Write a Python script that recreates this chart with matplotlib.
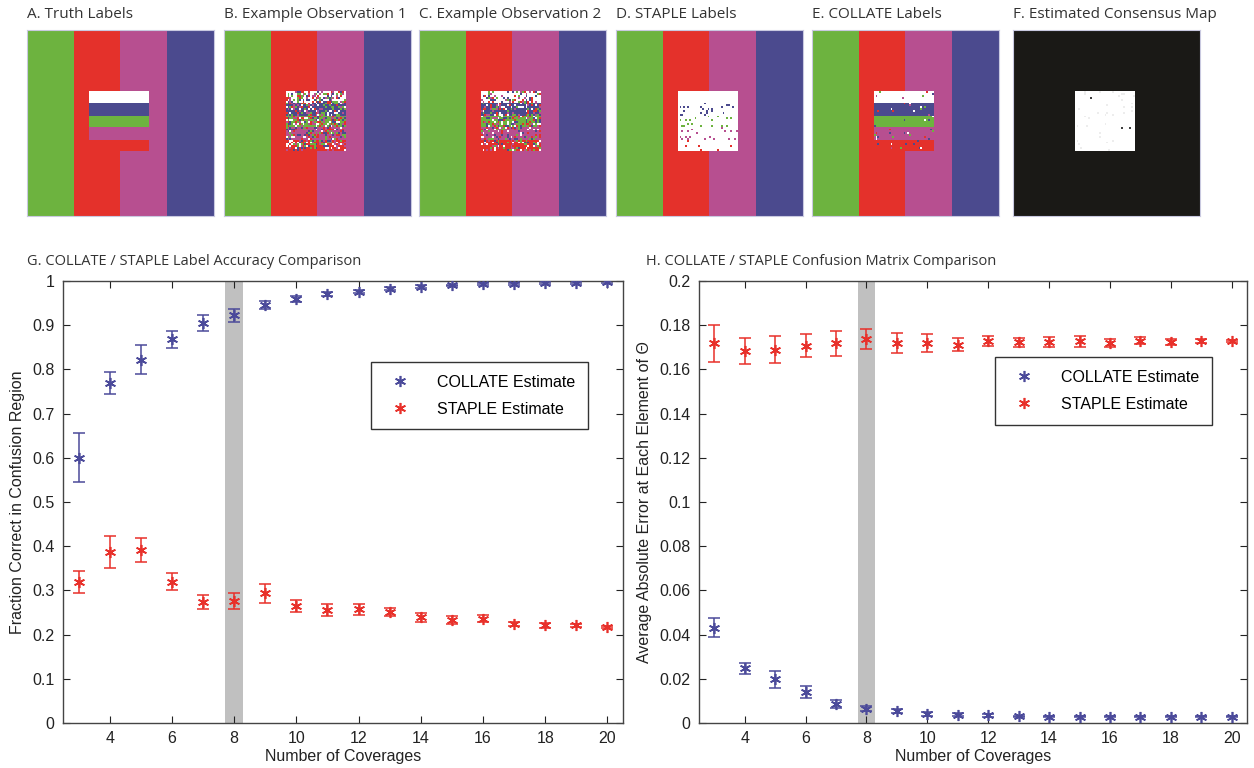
import numpy as np
import matplotlib
matplotlib.use("Agg")
import matplotlib.pyplot as plt
from matplotlib.lines import Line2D
from matplotlib.ticker import FuncFormatter

# ==========================
# Data
# ==========================
coverages = np.arange(3, 21)

# G. label accuracy
acc_collate = [0.600, 0.770, 0.822, 0.868, 0.905, 0.922, 0.945, 0.959, 0.971,
               0.976, 0.983, 0.987, 0.990, 0.993, 0.994, 0.995, 0.996, 0.997]
acc_collate_err = [0.055, 0.025, 0.033, 0.019, 0.019, 0.014, 0.009, 0.007, 0.005,
                   0.004, 0.003, 0.003, 0.002, 0.002, 0.002, 0.002, 0.002, 0.002]
acc_staple = [0.320, 0.387, 0.391, 0.320, 0.274, 0.276, 0.293, 0.265, 0.256,
              0.257, 0.251, 0.239, 0.234, 0.236, 0.224, 0.221, 0.221, 0.218]
acc_staple_err = [0.025, 0.036, 0.027, 0.019, 0.016, 0.019, 0.021, 0.013, 0.014,
                  0.013, 0.009, 0.010, 0.009, 0.008, 0.005, 0.005, 0.003, 0.002]

# H. confusion matrix error
err_collate = [0.0432, 0.0247, 0.0197, 0.0142, 0.0085, 0.0065, 0.0055, 0.0042, 0.0037,
               0.0034, 0.0030, 0.0029, 0.0029, 0.0029, 0.0029, 0.0029, 0.0029, 0.0029]
err_collate_err = [0.0041, 0.0025, 0.0037, 0.0027, 0.0017, 0.0012, 0.0010, 0.0009, 0.0006,
                   0.0005, 0.0003, 0.0003, 0.0003, 0.0003, 0.0003, 0.0003, 0.0003, 0.0003]
err_staple = [0.1718, 0.1682, 0.1690, 0.1708, 0.1718, 0.1738, 0.1720, 0.1720, 0.1712,
              0.1730, 0.1722, 0.1725, 0.1727, 0.1718, 0.1730, 0.1724, 0.1727, 0.1730]
err_staple_err = [0.0084, 0.0058, 0.0060, 0.0053, 0.0056, 0.0045, 0.0046, 0.0042, 0.0029,
                  0.0022, 0.0020, 0.0023, 0.0024, 0.0018, 0.0015, 0.0014, 0.0009, 0.0005]

highlight_cov = 8

panel_titles = ["A. Truth Labels", "B. Example Observation 1", "C. Example Observation 2",
                "D. STAPLE Labels", "E. COLLATE Labels", "F. Estimated Consensus Map"]

# ==========================
# Colori / stile
# ==========================
BLUE = "#4b4a9a"
RED = "#e8302a"
label_rgb = np.array([
    [0x6d, 0xb3, 0x3f],  # 0 verde
    [0xe4, 0x31, 0x2b],  # 1 rosso
    [0xb7, 0x4f, 0x90],  # 2 magenta
    [0x4b, 0x4a, 0x8e],  # 3 blu
    [0xff, 0xff, 0xff],  # 4 bianco
]) / 255.0

plt.rcParams['font.family'] = ['Liberation Sans', 'DejaVu Sans']
TITLE_FONT = ['Open Sans', 'DejaVu Sans']

# ==========================
# Immagini sintetiche (texture deterministica)
# ==========================
N = 100
SQ0, SQ1 = 33, 65
BAND_EDGES = [33, 39, 46, 52, 59, 65]
BAND_LABELS = [4, 3, 0, 2, 1]

ii, jj = np.meshgrid(np.arange(N), np.arange(N), indexing='ij')
MASK32 = np.uint64(0xFFFFFFFF)


def hash01(seed):
    # hash intero (stile murmur) -> valori in [0, 1)
    h = (ii.astype(np.uint64) * np.uint64(73856093)) ^ \
        (jj.astype(np.uint64) * np.uint64(19349663)) ^ \
        np.uint64(seed * 83492791 + 12345)
    h &= MASK32
    h ^= h >> np.uint64(13)
    h = (h * np.uint64(0x5bd1e995)) & MASK32
    h ^= h >> np.uint64(15)
    h = (h * np.uint64(0x27d4eb2d)) & MASK32
    h ^= h >> np.uint64(16)
    return h.astype(np.float64) / 4294967296.0


def truth_labels():
    lab = np.minimum(jj // 25, 3)
    for k in range(5):
        r0, r1 = BAND_EDGES[k], BAND_EDGES[k + 1]
        lab[r0:r1, SQ0:SQ1] = BAND_LABELS[k]
    return lab


inside = (ii >= SQ0) & (ii < SQ1) & (jj >= SQ0) & (jj < SQ1)
truth = truth_labels()


def noisy(p, seed):
    lab = truth.copy()
    flip = (hash01(seed) < p) & inside
    rnd = np.minimum((hash01(seed + 11) * 5).astype(int), 4)
    lab[flip] = rnd[flip]
    return lab


obs1 = noisy(0.6, 1)
obs2 = noisy(0.45, 2)

staple = truth.copy()
staple[inside] = 4
dots = (hash01(3) < 0.08) & inside & (truth != 4)
staple[dots] = truth[dots]

collate = noisy(0.06, 4)

images = [label_rgb[truth], label_rgb[obs1], label_rgb[obs2],
          label_rgb[staple], label_rgb[collate]]

consensus = np.full((N, N, 3), 0.105)
consensus[..., 1] = 0.10
consensus[..., 2] = 0.09
consensus[inside] = 1.0
cdots = (hash01(5) < 0.03) & inside
consensus[cdots] = 0.93
ddots = (hash01(6) < 0.004) & inside
consensus[ddots] = 0.25
images.append(consensus)

# ==========================
# Figura
# ==========================
W, H = 1254, 768
fig = plt.figure(figsize=(W / 100, H / 100), dpi=100)

panel_left = [27, 224, 419, 616, 812, 1013]
for k, img in enumerate(images):
    ax = fig.add_axes([panel_left[k] / W, 1 - 216 / H, 187 / W, 186 / H])
    ax.imshow(img, interpolation='nearest', aspect='auto')
    ax.set_xticks([])
    ax.set_yticks([])
    for s in ax.spines.values():
        s.set_color('#c9c9e0')
        s.set_linewidth(0.8)
    fig.text(panel_left[k] / W, 1 - 14 / H, panel_titles[k], ha='left', va='center',
             fontsize=11, color='#333333', family=TITLE_FONT)


def style_axes(ax):
    ax.set_xlim(2.5, 20.5)
    ax.set_xticks(np.arange(4, 21, 2))
    ax.tick_params(direction='in', top=True, right=True, length=5, width=0.8,
                   labelsize=11.5, colors='#222222', pad=6)
    for s in ax.spines.values():
        s.set_linewidth(1.0)
        s.set_color('#444444')
    ax.yaxis.set_major_formatter(FuncFormatter(lambda v, p: f"{v:g}"))
    ax.set_xlabel("Number of Coverages", fontsize=11.5, color='#222222', labelpad=2)
    ax.axvspan(highlight_cov - 0.29, highlight_cov + 0.29, color='#c0c0c0', lw=0, zorder=0)


def draw_series(ax, y, e, color):
    ax.errorbar(coverages, y, yerr=e, fmt='none', ecolor=color, elinewidth=1.1,
                capsize=4.5, capthick=1.1, zorder=2)
    ax.plot(coverages, y, linestyle='none', marker=(6, 2, 0), markersize=8,
            markeredgewidth=1.2, color=color, zorder=3)


def add_legend(ax, anchor):
    handles = [Line2D([], [], linestyle='none', marker=(6, 2, 0), markersize=8,
                      markeredgewidth=1.2, color=BLUE),
               Line2D([], [], linestyle='none', marker=(6, 2, 0), markersize=8,
                      markeredgewidth=1.2, color=RED)]
    leg = ax.legend(handles, ["COLLATE Estimate", "STAPLE Estimate"], loc='upper right',
                    bbox_to_anchor=anchor, fontsize=11.5, fancybox=False, framealpha=1,
                    edgecolor='#333333', borderpad=0.8, handletextpad=1.3,
                    labelspacing=0.75, borderaxespad=0)
    leg.get_frame().set_linewidth(1.0)


# G
axG = fig.add_axes([63 / W, 1 - 723 / H, 560 / W, 442 / H])
style_axes(axG)
axG.set_ylim(0, 1)
axG.set_yticks(np.arange(0, 1.01, 0.1))
draw_series(axG, acc_collate, acc_collate_err, BLUE)
draw_series(axG, acc_staple, acc_staple_err, RED)
axG.set_ylabel("Fraction Correct in Confusion Region", fontsize=11.5, color='#222222', labelpad=5)
add_legend(axG, (0.9375, 0.817))
fig.text(27 / W, 1 - 262 / H, "G. COLLATE / STAPLE Label Accuracy Comparison",
         ha='left', va='center', fontsize=10.5, color='#333333', family=TITLE_FONT)

# H
axH = fig.add_axes([699 / W, 1 - 723 / H, 548 / W, 442 / H])
style_axes(axH)
axH.set_ylim(0, 0.2)
axH.set_yticks(np.arange(0, 0.201, 0.02))
draw_series(axH, err_collate, err_collate_err, BLUE)
draw_series(axH, err_staple, err_staple_err, RED)
axH.set_ylabel("Average Absolute Error at Each Element of \u0398", fontsize=11.5,
               color='#222222', labelpad=5)
add_legend(axH, (0.936, 0.828))
fig.text(646 / W, 1 - 262 / H, "H. COLLATE / STAPLE Confusion Matrix Comparison",
         ha='left', va='center', fontsize=10.5, color='#333333', family=TITLE_FONT)

fig.savefig("out.png", dpi=100)
